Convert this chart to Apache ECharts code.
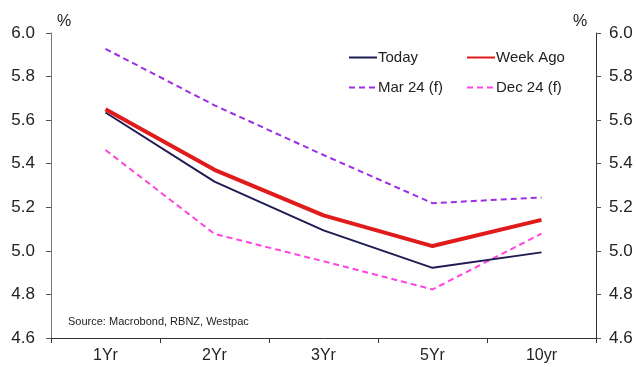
<!DOCTYPE html>
<html>
<head>
<meta charset="utf-8">
<script src="https://cdn.jsdelivr.net/npm/echarts@6/dist/echarts.min.js"></script>
<style>
  html, body { margin: 0; padding: 0; background: #fff; }
  #chart { width: 636px; height: 367px; }
</style>
</head>
<body>
<div id="chart"></div>
<script>
// Tenors along the curve
const tenors = ['1Yr', '2Yr', '3Yr', '5Yr', '10yr'];

// Swap curve levels (%)
const today    = [5.635, 5.318, 5.094, 4.922, 4.993];
const weekAgo  = [5.650, 5.372, 5.163, 5.022, 5.142];
const mar24f   = [5.927, 5.668, 5.440, 5.219, 5.245];
const dec24f   = [5.463, 5.078, 4.952, 4.823, 5.079];

// Value axis ticks
const yMin = 4.6, yMax = 6.0, yStep = 0.2;

const FONT = '"Liberation Sans", Arial, sans-serif';
const TXT = '#222';

const chart = echarts.init(document.getElementById('chart'), null, { renderer: 'canvas' });

function legendAt(name, left, top) {
  return {
    data: [name], left: left, top: top, orient: 'horizontal',
    itemWidth: 28, itemHeight: 14, itemGap: 0, padding: 0,
    itemStyle: { opacity: 0 },
    textStyle: { fontFamily: FONT, fontSize: 15, color: TXT, padding: [0, 0, 0, -4] },
    selectedMode: false
  };
}

const yAxisBase = {
  type: 'value', min: yMin, max: yMax, interval: yStep,
  splitLine: { show: false },
  axisTick: { show: true, length: 5, lineStyle: { color: '#555' } },
  axisLabel: { fontFamily: FONT, fontSize: 17, color: TXT,
               formatter: v => v.toFixed(1) }
};

chart.setOption({
  animation: false,
  grid: { left: 51, right: 40, top: 33, bottom: 29, containLabel: false },
  legend: [
    legendAt('Today', 348, 50),
    legendAt('Week Ago', 466, 50),
    legendAt('Mar 24 (f)', 348, 80),
    legendAt('Dec 24 (f)', 466, 80)
  ],
  xAxis: {
    type: 'category', data: tenors, boundaryGap: true,
    axisLine: { lineStyle: { color: '#333' } },
    axisTick: { show: true, length: 5, alignWithLabel: false, lineStyle: { color: '#333' } },
    axisLabel: { fontFamily: FONT, fontSize: 16, color: TXT, margin: 10 }
  },
  yAxis: [
    Object.assign({}, yAxisBase, {
      position: 'left',
      axisLine: { show: true, lineStyle: { color: '#777' } },
      axisLabel: Object.assign({}, yAxisBase.axisLabel, { margin: 16 })
    }),
    Object.assign({}, yAxisBase, {
      position: 'right',
      axisLine: { show: true, lineStyle: { color: '#333' } },
      axisLabel: Object.assign({}, yAxisBase.axisLabel, { margin: 13 })
    })
  ],
  graphic: [
    { type: 'text', left: 57, top: 14,
      style: { text: '%', font: '16px ' + FONT, fill: TXT } },
    { type: 'text', left: 573, top: 14,
      style: { text: '%', font: '16px ' + FONT, fill: TXT } },
    { type: 'text', left: 68, top: 316,
      style: { text: 'Source: Macrobond, RBNZ, Westpac', font: '11px ' + FONT, fill: TXT } }
  ],
  series: [
    { name: 'Mar 24 (f)', type: 'line', data: mar24f, symbol: 'none', z: 2,
      lineStyle: { color: '#9b2fe6', width: 2, type: [6, 4] }, itemStyle: { color: '#9b2fe6' } },
    { name: 'Dec 24 (f)', type: 'line', data: dec24f, symbol: 'none', z: 2,
      lineStyle: { color: '#ff45de', width: 2, type: [6, 4] }, itemStyle: { color: '#ff45de' } },
    { name: 'Today', type: 'line', data: today, symbol: 'none', z: 3,
      lineStyle: { color: '#1e1c52', width: 2 }, itemStyle: { color: '#1e1c52' } },
    { name: 'Week Ago', type: 'line', data: weekAgo, symbol: 'none', z: 4,
      lineStyle: { color: '#e01b1b', width: 4 }, itemStyle: { color: '#e01b1b' } }
  ]
});
</script>
</body>
</html>
